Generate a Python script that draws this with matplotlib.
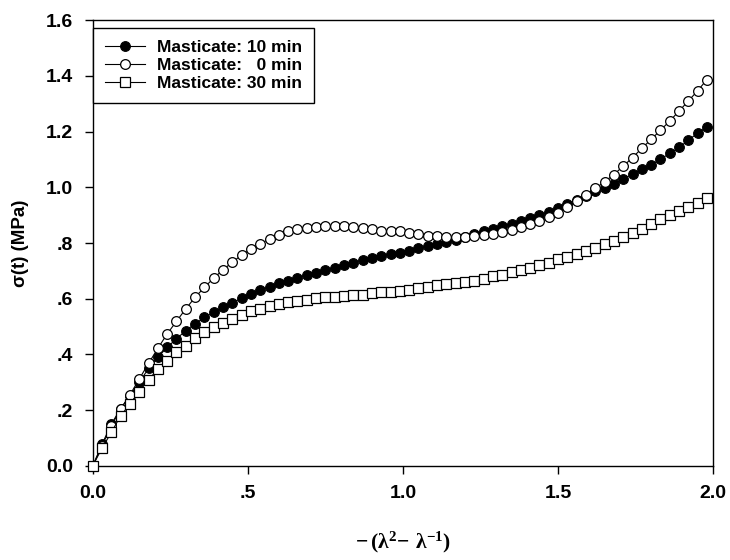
import matplotlib
matplotlib.use("Agg")
import matplotlib.pyplot as plt

# strain axis values  -(lambda^2 - lambda^-1)
strain = [0.00, 0.03, 0.06, 0.09, 0.12, 0.15, 0.18, 0.21, 0.24, 0.27,
          0.30, 0.33, 0.36, 0.39, 0.42, 0.45, 0.48, 0.51, 0.54, 0.57,
          0.60, 0.63, 0.66, 0.69, 0.72, 0.75, 0.78, 0.81, 0.84, 0.87,
          0.90, 0.93, 0.96, 0.99, 1.02, 1.05, 1.08, 1.11, 1.14, 1.17,
          1.20, 1.23, 1.26, 1.29, 1.32, 1.35, 1.38, 1.41, 1.44, 1.47,
          1.50, 1.53, 1.56, 1.59, 1.62, 1.65, 1.68, 1.71, 1.74, 1.77,
          1.80, 1.83, 1.86, 1.89, 1.92, 1.95, 1.98]

# Masticate: 10 min (filled circles)
stress_10 = [0.000, 0.078, 0.150, 0.206, 0.252, 0.300, 0.350, 0.390, 0.426, 0.456,
             0.486, 0.510, 0.533, 0.551, 0.569, 0.584, 0.603, 0.617, 0.631, 0.643,
             0.655, 0.664, 0.675, 0.685, 0.693, 0.703, 0.712, 0.720, 0.730, 0.739,
             0.747, 0.755, 0.762, 0.766, 0.773, 0.782, 0.789, 0.797, 0.804, 0.811,
             0.820, 0.832, 0.843, 0.852, 0.861, 0.870, 0.880, 0.890, 0.900, 0.912,
             0.924, 0.940, 0.955, 0.970, 0.985, 0.998, 1.012, 1.030, 1.047, 1.064,
             1.081, 1.101, 1.122, 1.143, 1.169, 1.195, 1.217]

# Masticate: 0 min (open circles)
stress_0 = [0.000, 0.072, 0.144, 0.204, 0.255, 0.312, 0.368, 0.422, 0.474, 0.519,
            0.564, 0.605, 0.641, 0.674, 0.704, 0.731, 0.757, 0.778, 0.796, 0.816,
            0.829, 0.842, 0.850, 0.855, 0.858, 0.861, 0.861, 0.860, 0.856, 0.853,
            0.849, 0.845, 0.843, 0.842, 0.837, 0.832, 0.827, 0.825, 0.822, 0.822,
            0.822, 0.825, 0.828, 0.832, 0.838, 0.846, 0.856, 0.867, 0.879, 0.892,
            0.908, 0.930, 0.952, 0.972, 0.996, 1.020, 1.046, 1.076, 1.107, 1.140,
            1.172, 1.205, 1.238, 1.274, 1.310, 1.347, 1.387]

# Masticate: 30 min (open squares)
stress_30 = [0.000, 0.064, 0.120, 0.180, 0.222, 0.267, 0.309, 0.348, 0.378, 0.408,
             0.432, 0.459, 0.480, 0.497, 0.513, 0.528, 0.542, 0.555, 0.565, 0.573,
             0.581, 0.587, 0.593, 0.597, 0.602, 0.606, 0.608, 0.610, 0.613, 0.615,
             0.619, 0.623, 0.625, 0.627, 0.632, 0.638, 0.644, 0.648, 0.652, 0.656,
             0.660, 0.665, 0.672, 0.680, 0.687, 0.695, 0.703, 0.711, 0.720, 0.730,
             0.741, 0.750, 0.760, 0.772, 0.783, 0.796, 0.808, 0.822, 0.837, 0.852,
             0.868, 0.885, 0.900, 0.915, 0.930, 0.944, 0.960]

series_labels = ["Masticate: 10 min", "Masticate:   0 min", "Masticate: 30 min"]
x_ticks = [0.0, 0.5, 1.0, 1.5, 2.0]
x_ticklabels = ["0.0", ".5", "1.0", "1.5", "2.0"]
y_ticks = [0.0, 0.2, 0.4, 0.6, 0.8, 1.0, 1.2, 1.4, 1.6]
y_ticklabels = ["0.0", ".2", ".4", ".6", ".8", "1.0", "1.2", "1.4", "1.6"]

plt.rcParams['font.family'] = ['Liberation Sans', 'DejaVu Sans']
plt.rcParams['font.weight'] = 'bold'
plt.rcParams['mathtext.fontset'] = 'custom'
plt.rcParams['mathtext.rm'] = 'Liberation Serif:bold'
plt.rcParams['mathtext.bf'] = 'Liberation Serif:bold'
plt.rcParams['mathtext.it'] = 'Liberation Serif:bold'

fig = plt.figure(figsize=(7.30, 5.60), dpi=100)
ax = fig.add_axes([0.127, 0.168, 0.850, 0.796])

ax.plot(strain, stress_10, color='black', lw=0.8, marker='o', ms=7.0,
        mfc='black', mec='black', mew=0.8, label=series_labels[0], clip_on=False, zorder=3)
ax.plot(strain, stress_0, color='black', lw=0.8, marker='o', ms=7.0,
        mfc='white', mec='black', mew=0.9, label=series_labels[1], clip_on=False, zorder=4)
ax.plot(strain, stress_30, color='black', lw=0.8, marker='s', ms=6.6,
        mfc='white', mec='black', mew=0.9, label=series_labels[2], clip_on=False, zorder=5)

ax.set_xlim(0, 2.0)
ax.set_ylim(0, 1.6)
ax.set_xticks(x_ticks)
ax.set_xticklabels(x_ticklabels)
ax.set_yticks(y_ticks)
ax.set_yticklabels(y_ticklabels)
ax.tick_params(direction='out', length=6, width=1, labelsize=14, pad=8)
for lab in ax.get_xticklabels() + ax.get_yticklabels():
    lab.set_fontweight('bold')
for sp in ax.spines.values():
    sp.set_linewidth(1.0)

ax.set_ylabel("σ(t) (MPa)", fontsize=13.5, fontweight='bold', labelpad=12)
ax.set_xlabel(r"$\mathbf{-\,(\lambda^{2}\!-\,\lambda^{-1})}$", fontsize=15.5, labelpad=20)

leg = ax.legend(loc='upper left', bbox_to_anchor=(0.0, 0.982), borderaxespad=0.0,
                prop={'weight': 'bold', 'size': 12.5}, frameon=True, fancybox=False,
                edgecolor='black', framealpha=1, handlelength=2.3, handletextpad=0.7,
                labelspacing=0.15, borderpad=0.7)
leg.get_frame().set_linewidth(1.0)

fig.savefig("out.png", dpi=100)
